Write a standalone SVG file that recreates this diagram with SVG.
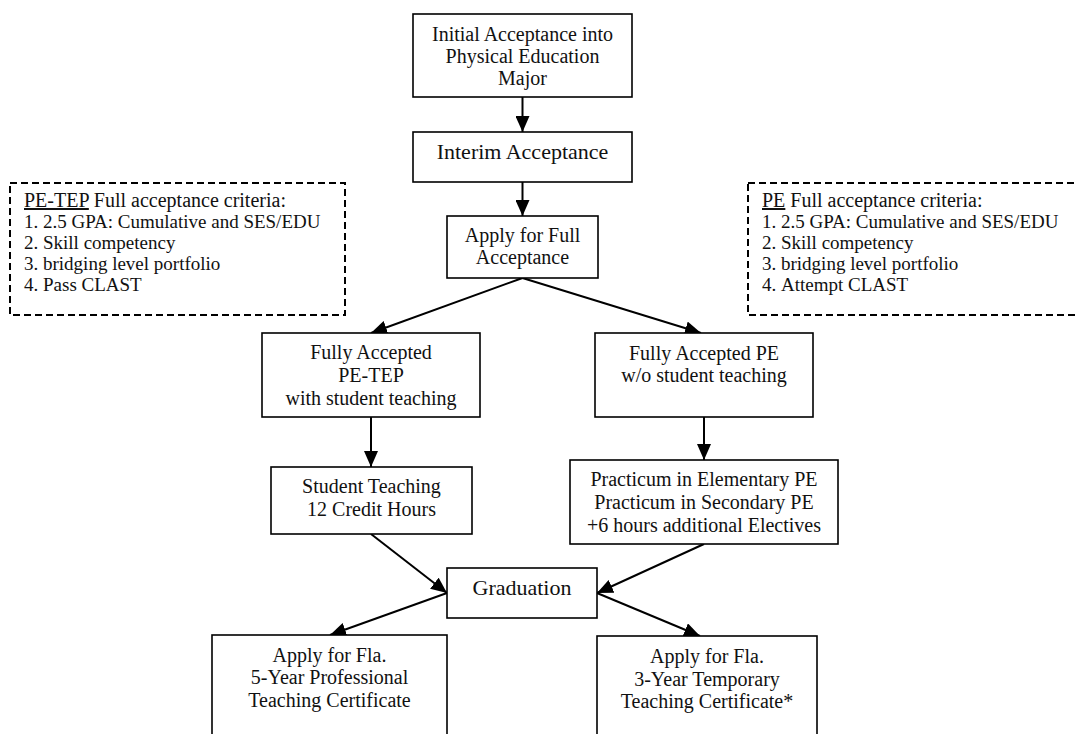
<svg xmlns="http://www.w3.org/2000/svg" width="1075" height="734" viewBox="0 0 1075 734">
<defs>
<marker id="ah" markerUnits="userSpaceOnUse" markerWidth="16" markerHeight="14" refX="16" refY="7" orient="auto">
<path d="M0,0 L16,7 L0,14 z" fill="#000"/>
</marker>
<style>
.box{fill:#fff;stroke:#000;stroke-width:1.6}
.dash{fill:#fff;stroke:#000;stroke-width:2;stroke-dasharray:7 4}
.t{font-family:"Liberation Serif","Times New Roman",serif;font-size:20px;fill:#111;text-anchor:middle}
.tl{font-family:"Liberation Serif","Times New Roman",serif;font-size:22px;fill:#111;text-anchor:middle}
.c{font-family:"Liberation Serif","Times New Roman",serif;font-size:19px;fill:#111}
.h{font-size:20px}
.conn line{stroke:#000;stroke-width:2;marker-end:url(#ah)}
</style>
</defs>
<rect width="1075" height="734" fill="#fff"/>

<g id="criteria-petep">
<rect class="dash" x="10" y="183" width="335" height="132"/>
<text class="c h" x="24" y="207"><tspan text-decoration="underline">PE-TEP</tspan> Full acceptance criteria:</text>
<text class="c" x="24" y="228">1.</text><text class="c" x="43" y="228">2.5 GPA: Cumulative and SES/EDU</text>
<text class="c" x="24" y="249">2.</text><text class="c" x="43" y="249">Skill competency</text>
<text class="c" x="24" y="270">3.</text><text class="c" x="43" y="270">bridging level portfolio</text>
<text class="c" x="24" y="291">4.</text><text class="c" x="43" y="291">Pass CLAST</text>
</g>

<g id="criteria-pe">
<rect class="dash" x="748" y="183" width="345" height="132"/>
<text class="c h" x="762" y="207"><tspan text-decoration="underline">PE</tspan> Full acceptance criteria:</text>
<text class="c" x="762" y="228">1.</text><text class="c" x="781" y="228">2.5 GPA: Cumulative and SES/EDU</text>
<text class="c" x="762" y="249">2.</text><text class="c" x="781" y="249">Skill competency</text>
<text class="c" x="762" y="270">3.</text><text class="c" x="781" y="270">bridging level portfolio</text>
<text class="c" x="762" y="291">4.</text><text class="c" x="781" y="291">Attempt CLAST</text>
</g>

<g class="conn" id="connectors">
<line x1="522.5" y1="97" x2="522.5" y2="132"/>
<line x1="522.5" y1="182" x2="522.5" y2="216"/>
<line x1="522.5" y1="278" x2="371" y2="333"/>
<line x1="522.5" y1="278" x2="701" y2="333"/>
<line x1="371" y1="417" x2="371" y2="467"/>
<line x1="704" y1="417" x2="704" y2="460"/>
<line x1="371" y1="534" x2="447" y2="593"/>
<line x1="704" y1="544" x2="597" y2="593"/>
<line x1="447" y1="593" x2="330" y2="635"/>
<line x1="597" y1="593" x2="700" y2="636"/>
</g>

<g id="initial">
<rect class="box" x="413" y="14" width="219" height="83"/>
<text class="t" x="522.5" y="41">Initial Acceptance into</text>
<text class="t" x="522.5" y="63">Physical Education</text>
<text class="t" x="522.5" y="85">Major</text>
</g>

<g id="interim">
<rect class="box" x="413" y="132" width="219" height="50"/>
<text class="tl" x="522.5" y="159">Interim Acceptance</text>
</g>

<g id="apply-full">
<rect class="box" x="447" y="216" width="151" height="62"/>
<text class="t" x="522.5" y="242">Apply for Full</text>
<text class="t" x="522.5" y="264">Acceptance</text>
</g>

<g id="fully-petep">
<rect class="box" x="262" y="333" width="218" height="84"/>
<text class="t" x="371" y="359">Fully Accepted</text>
<text class="t" x="371" y="382">PE-TEP</text>
<text class="t" x="371" y="405">with student teaching</text>
</g>

<g id="fully-pe">
<rect class="box" x="595" y="333" width="218" height="84"/>
<text class="t" x="704" y="360">Fully Accepted PE</text>
<text class="t" x="704" y="382">w/o student teaching</text>
</g>

<g id="student-teaching">
<rect class="box" x="271" y="467" width="201" height="67"/>
<text class="t" x="371.5" y="493">Student Teaching</text>
<text class="t" x="371.5" y="516">12 Credit Hours</text>
</g>

<g id="practicum">
<rect class="box" x="570" y="460" width="268" height="84"/>
<text class="t" x="704" y="486">Practicum in Elementary PE</text>
<text class="t" x="704" y="509">Practicum in Secondary PE</text>
<text class="t" x="704" y="532">+6 hours additional Electives</text>
</g>

<g id="graduation">
<rect class="box" x="447" y="568" width="150" height="50"/>
<text class="tl" x="522" y="595">Graduation</text>
</g>

<g id="cert-5yr">
<rect class="box" x="212" y="635" width="235" height="120"/>
<text class="t" x="329.5" y="662">Apply for Fla.</text>
<text class="t" x="329.5" y="684">5-Year Professional</text>
<text class="t" x="329.5" y="707">Teaching Certificate</text>
</g>

<g id="cert-3yr">
<rect class="box" x="597" y="636" width="220" height="120"/>
<text class="t" x="707" y="663">Apply for Fla.</text>
<text class="t" x="707" y="686">3-Year Temporary</text>
<text class="t" x="707" y="708">Teaching Certificate*</text>
</g>
</svg>
